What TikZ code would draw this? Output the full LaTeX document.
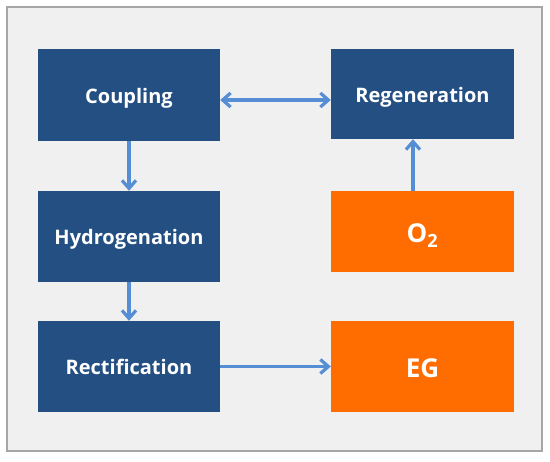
\documentclass[tikz,border=0pt]{standalone}
\usepackage{fontspec}
\setmainfont{Open Sans}
\usetikzlibrary{arrows.meta}
\definecolor{boxblue}{HTML}{234F82}
\definecolor{boxorange}{HTML}{FF6D00}
\definecolor{arrowblue}{HTML}{558ED5}
\definecolor{framegrey}{HTML}{A6A6A6}
\definecolor{bggrey}{HTML}{F0F0F0}
\tikzset{
  stepbox/.style={rectangle, inner sep=0pt, text=white, font=\bfseries\fontsize{20}{24}\selectfont, minimum width=182pt, text height=17pt, text depth=0pt},
  bluebox/.style={stepbox, fill=boxblue},
  orangebox/.style={stepbox, fill=boxorange, font=\bfseries\fontsize{26}{30}\selectfont, text height=22pt},
  barbtip/.tip={Straight Barb[length=8pt,width=14pt,line width=3.2pt]},
  conn/.style={draw=arrowblue, line width=3.2pt, -{barbtip}},
  conn2/.style={draw=arrowblue, line width=3.2pt, {barbtip}-{barbtip}}
}
\begin{document}
\begin{tikzpicture}[x=1pt,y=-1pt]
\useasboundingbox (0,0) rectangle (550,462);
\fill[white] (0,0) rectangle (550,462);
\draw[framegrey, fill=bggrey, line width=1.2pt] (7,7) rectangle (542,451);

\node[bluebox, minimum height=92pt] (coup) at (129,95) {Coupling};
\node[bluebox, minimum width=183pt, minimum height=90pt] (regen) at (422.5,94) {Regeneration};
\node[bluebox, minimum height=91pt] (hydro) at (129,236.5) {Hydrogenation};
\node[orangebox, minimum width=183pt, minimum height=81pt] (oxy) at (422.5,231.5) {O\textsubscript{2}};
\node[bluebox, minimum height=91pt] (rect) at (129,366.5) {Rectification};
\node[orangebox, minimum width=183pt, minimum height=91pt] (eg) at (422.5,366.5) {EG};

\draw[conn2] ([yshift=-5pt]coup.east) -- ([yshift=-5pt]coup.east -| regen.west);
\draw[conn] (coup.south) -- (hydro.north);
\draw[conn] (hydro.south) -- (rect.north);
\draw[conn] ([xshift=-9.5pt]oxy.north) -- ([xshift=-9.5pt]oxy.north |- regen.south);
\draw[conn] (rect.east) -- (eg.west);
\end{tikzpicture}
\end{document}
